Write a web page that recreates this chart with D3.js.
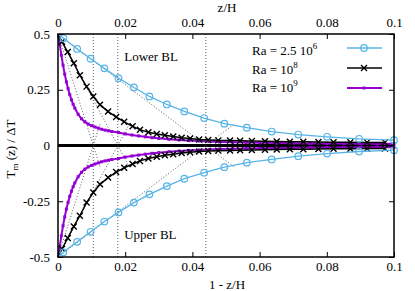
<!DOCTYPE html>
<html>
<head>
<meta charset="utf-8">
<script src="https://cdn.jsdelivr.net/npm/d3@7"></script>
<style>
  body { margin: 0; background: #fff; }
</style>
</head>
<body>
<svg id="chart"></svg>
<script>
// tick labels
const xTickValues = [0, 0.02, 0.04, 0.06, 0.08, 0.1];
const xTickLabels = ['0', '0.02', '0.04', '0.06', '0.08', '0.1'];
const yTickValues = [0.5, 0.25, 0, -0.25, -0.5];
const yTickLabels = ['0.5', '0.25', '0', '-0.25', '-0.5'];

// boundary layer thicknesses (dotted verticals)
const deltas = [0.0105, 0.0178, 0.0440];

// Ra = 2.5 10^6
const blueX = [0, 0.0016, 0.0057, 0.0097, 0.0138, 0.0180, 0.0226, 0.0272, 0.0324, 0.0376, 0.0435, 0.0495, 0.0562, 0.0636, 0.0715, 0.0801, 0.0896, 0.1];
const blueLower = [0.5, 0.481, 0.433, 0.389, 0.346, 0.302, 0.260, 0.220, 0.184, 0.153, 0.123, 0.098, 0.080, 0.0625, 0.049, 0.039, 0.030, 0.024];
const blueUpper = [-0.5, -0.479, -0.432, -0.387, -0.341, -0.300, -0.256, -0.219, -0.182, -0.149, -0.122, -0.097, -0.077, -0.0625, -0.048, -0.036, -0.027, -0.021];

// Ra = 10^8
const blackX = [0, 0.0012, 0.0029, 0.0047, 0.0065, 0.0085, 0.0105, 0.0125, 0.0149, 0.0173, 0.0197, 0.0222, 0.0244, 0.0269, 0.0294, 0.0318, 0.0343, 0.0368, 0.0393, 0.0420, 0.0447, 0.0477, 0.0512, 0.0542, 0.0577, 0.0616, 0.0651, 0.0690, 0.0730, 0.0775, 0.0820, 0.0870, 0.0920, 0.0973];
const blackLower = [0.5, 0.465, 0.419, 0.369, 0.315, 0.264, 0.220, 0.183, 0.152, 0.128, 0.106, 0.086, 0.071, 0.059, 0.052, 0.046, 0.040, 0.035, 0.031, 0.027, 0.025, 0.023, 0.022, 0.021, 0.020, 0.019, 0.018, 0.017, 0.017, 0.016, 0.015, 0.015, 0.014, 0.014];
const blackUpper = [-0.5, -0.463, -0.415, -0.363, -0.315, -0.256, -0.211, -0.174, -0.144, -0.119, -0.100, -0.083, -0.069, -0.058, -0.050, -0.044, -0.039, -0.034, -0.030, -0.027, -0.025, -0.023, -0.022, -0.021, -0.020, -0.019, -0.018, -0.017, -0.017, -0.016, -0.015, -0.015, -0.014, -0.014];

// Ra = 10^9
const purpleX = [0, 0.0005, 0.001, 0.0015, 0.002, 0.0025, 0.003, 0.0035, 0.004, 0.0045, 0.005, 0.006, 0.007, 0.008, 0.009, 0.010, 0.011, 0.012, 0.013, 0.014, 0.015, 0.016, 0.018, 0.020, 0.022, 0.024, 0.026, 0.028, 0.030, 0.033, 0.036, 0.039, 0.042, 0.045, 0.048, 0.052, 0.056, 0.060, 0.065, 0.070, 0.075, 0.080, 0.085, 0.090, 0.095, 0.1];
const purpleLower = [0.5, 0.455, 0.405, 0.36, 0.32, 0.285, 0.255, 0.228, 0.205, 0.185, 0.168, 0.140, 0.120, 0.106, 0.096, 0.089, 0.083, 0.078, 0.073, 0.069, 0.066, 0.063, 0.058, 0.052, 0.047, 0.043, 0.039, 0.035, 0.032, 0.028, 0.025, 0.022, 0.020, 0.018, 0.016, 0.0145, 0.013, 0.012, 0.011, 0.010, 0.0095, 0.009, 0.0085, 0.008, 0.0078, 0.0075];
const purpleUpper = [-0.5, -0.455, -0.405, -0.36, -0.32, -0.285, -0.255, -0.228, -0.205, -0.185, -0.168, -0.140, -0.120, -0.106, -0.096, -0.089, -0.083, -0.078, -0.073, -0.069, -0.066, -0.063, -0.058, -0.052, -0.047, -0.043, -0.039, -0.035, -0.032, -0.028, -0.025, -0.022, -0.020, -0.018, -0.016, -0.0145, -0.013, -0.012, -0.011, -0.010, -0.0095, -0.009, -0.0085, -0.008, -0.0078, -0.0075];

const FONT = "'Liberation Serif', 'Times New Roman', 'DejaVu Serif', serif";

const margin = { top: 34, right: 21, bottom: 34, left: 58 };
const width = 415 - margin.left - margin.right;
const height = 291 - margin.top - margin.bottom;

const root = d3.select('#chart')
  .attr('width', 415)
  .attr('height', 291);

const svg = root.append('g')
  .attr('transform', `translate(${margin.left},${margin.top})`);

const xScale = d3.scaleLinear().domain([0, 0.1]).range([0, width]);
const yScale = d3.scaleLinear().domain([-0.5, 0.5]).range([height, 0]);

const zip = (xs, ys) => xs.map((x, i) => ({ x: x, y: ys[i] }));

// zero line
svg.append('line')
  .attr('x1', 0).attr('x2', width)
  .attr('y1', yScale(0)).attr('y2', yScale(0))
  .attr('stroke', 'black')
  .attr('stroke-width', 3);

// dotted BL thickness lines and tangents
deltas.forEach(function (d) {
  svg.append('line')
    .attr('x1', xScale(d)).attr('x2', xScale(d))
    .attr('y1', 0).attr('y2', height)
    .attr('stroke', '#333').attr('stroke-width', 0.8)
    .attr('stroke-dasharray', '1,2');
  [0.5, -0.5].forEach(function (t) {
    svg.append('line')
      .attr('x1', xScale(0)).attr('y1', yScale(t))
      .attr('x2', xScale(d * 1.2)).attr('y2', yScale(-t * 0.2))
      .attr('stroke', '#333').attr('stroke-width', 0.8)
      .attr('stroke-dasharray', '1,2');
  });
});

const line = d3.line()
  .x(function (d) { return xScale(d.x); })
  .y(function (d) { return yScale(d.y); });

const series = [
  { name: 'purple', color: '#9400d3', width: 2, mark: 'square', sets: [zip(purpleX, purpleLower), zip(purpleX, purpleUpper)] },
  { name: 'black', color: '#000000', width: 1.5, mark: 'cross', sets: [zip(blackX, blackLower), zip(blackX, blackUpper)] },
  { name: 'blue', color: '#56b4e9', width: 1.3, mark: 'circle', sets: [zip(blueX, blueLower), zip(blueX, blueUpper)] }
];

function drawMark(g, mark, color, px, py) {
  if (mark === 'circle') {
    g.append('circle').attr('cx', px).attr('cy', py).attr('r', 3.3)
      .attr('fill', 'none').attr('stroke', color).attr('stroke-width', 1.2);
  } else if (mark === 'cross') {
    g.append('path')
      .attr('d', `M${px - 3},${py - 3}L${px + 3},${py + 3}M${px - 3},${py + 3}L${px + 3},${py - 3}`)
      .attr('stroke', color).attr('stroke-width', 1.4);
  } else {
    g.append('rect').attr('x', px - 1.5).attr('y', py - 1.5)
      .attr('width', 3).attr('height', 3).attr('fill', color);
  }
}

series.forEach(function (s) {
  const g = svg.append('g').attr('class', s.name);
  s.sets.forEach(function (pts) {
    g.append('path')
      .attr('d', line(pts))
      .attr('fill', 'none')
      .attr('stroke', s.color)
      .attr('stroke-width', s.width);
    pts.slice(1).forEach(function (p) {
      drawMark(g, s.mark, s.color, xScale(p.x), yScale(p.y));
    });
  });
});

// axes, ticks inside
const xAxisBottom = d3.axisBottom(xScale).tickValues(xTickValues)
  .tickFormat((d, i) => xTickLabels[i]).tickSize(-5).tickPadding(5);
const xAxisTop = d3.axisTop(xScale).tickValues(xTickValues)
  .tickFormat((d, i) => xTickLabels[i]).tickSize(-5).tickPadding(7);
const yAxisLeft = d3.axisLeft(yScale).tickValues(yTickValues)
  .tickFormat((d, i) => yTickLabels[i]).tickSize(-5).tickPadding(8);
const yAxisRight = d3.axisRight(yScale).tickValues(yTickValues)
  .tickFormat('').tickSize(-5);

[
  svg.append('g').attr('transform', `translate(0,${height})`).call(xAxisBottom),
  svg.append('g').call(xAxisTop),
  svg.append('g').call(yAxisLeft),
  svg.append('g').attr('transform', `translate(${width},0)`).call(yAxisRight)
].forEach(function (a) {
  a.select('.domain').remove();
  a.selectAll('line').attr('stroke', 'black').attr('stroke-width', 1);
  a.attr('font-family', null).attr('font-size', null);
});

// frame
svg.append('rect')
  .attr('width', width).attr('height', height)
  .attr('fill', 'none').attr('stroke', 'black').attr('stroke-width', 1.5);

// axis titles
svg.append('text')
  .attr('x', width / 2 + 1).attr('y', -22)
  .attr('text-anchor', 'middle')
  .text('z/H');

svg.append('text')
  .attr('x', width / 2 + 1).attr('y', height + 32)
  .attr('text-anchor', 'middle')
  .text('1 - z/H');

const yl = root.append('text')
  .attr('transform', 'translate(15,149) rotate(-90)')
  .attr('text-anchor', 'middle');
yl.append('tspan').text('T');
yl.append('tspan').attr('font-size', '9px').attr('dy', 3).text('m');
yl.append('tspan').attr('dy', -3).text(' (z) / ΔT');

// annotations
svg.append('text').attr('x', xScale(0.0197)).attr('y', yScale(0.38)).text('Lower BL');
svg.append('text').attr('x', xScale(0.0197)).attr('y', yScale(-0.42)).text('Upper BL');

// legend
const legendItems = [
  { base: 'Ra = 2.5 10', sup: '6', s: series[2] },
  { base: 'Ra = 10', sup: '8', s: series[1] },
  { base: 'Ra = 10', sup: '9', s: series[0] }
];
legendItems.forEach(function (it, i) {
  const ty = 21 + i * 18.5;
  const ly = 14 + i * 20;
  const t = svg.append('text').attr('x', 194).attr('y', ty);
  t.append('tspan').text(it.base);
  t.append('tspan').attr('font-size', '9px').attr('dy', -6).text(it.sup);
  svg.append('line')
    .attr('x1', 289).attr('x2', 324)
    .attr('y1', ly).attr('y2', ly)
    .attr('stroke', it.s.color).attr('stroke-width', it.s.width);
  drawMark(svg, it.s.mark, it.s.color, 306, ly);
});

// serif font on every text
root.selectAll('text')
  .style('font-family', FONT)
  .style('font-size', '13px')
  .style('fill', '#000');
root.selectAll('tspan[font-size]').style('font-size', '9px');
</script>
</body>
</html>
